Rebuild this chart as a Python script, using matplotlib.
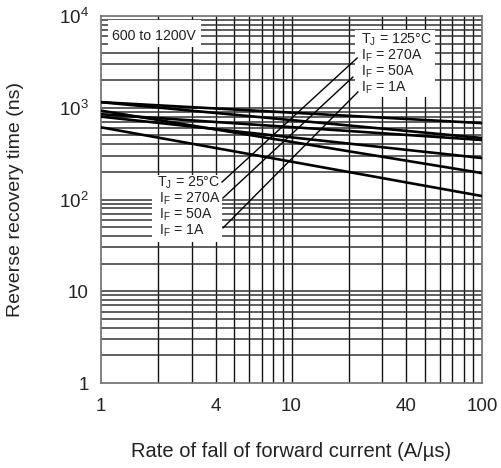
import numpy as np
import matplotlib
matplotlib.use('Agg')
import matplotlib.pyplot as plt
from matplotlib.patches import Rectangle
from matplotlib.ticker import FixedLocator, NullFormatter

plt.rcParams['font.family'] = ['Liberation Sans', 'DejaVu Sans']
plt.rcParams['mathtext.fontset'] = 'custom'
plt.rcParams['mathtext.rm'] = 'Liberation Sans'
plt.rcParams['mathtext.it'] = 'Liberation Sans'

# rate of fall of forward current (A/us) at the two ends of each curve
rate = [1, 100]

# reverse recovery time (ns)
tj125_if270 = [1150, 680]
tj125_if50 = [850, 445]
tj125_if1 = [800, 283]
tj25_if270 = [1150, 468]
tj25_if50 = [930, 194]
tj25_if1 = [612, 109]

x_ticks = [1, 4, 10, 40, 100]
x_ticklabels = ['1', '4', '10', '40', '100']
y_ticks = [1, 10, 100, 1000, 10000]
y_ticklabels = ['1', '10', r'10$^{2}$', r'10$^{3}$', r'10$^{4}$']

# leader lines (data coords): from the 25°C labels up to the 125°C labels
leaders = [
    ([4.32, 22.1], [155, 3480]),
    ([4.37, 21.0], [104, 2160]),
    ([4.37, 22.3], [49, 1485]),
]

fig = plt.figure(figsize=(5.01, 4.68), dpi=100)
ax = fig.add_axes([101 / 501, 85 / 468, 381 / 501, 367 / 468])
ax.set_xscale('log')
ax.set_yscale('log')
ax.set_xlim(1, 100)
ax.set_ylim(1, 10000)

# grid
xminor = [m * d for d in (1, 10) for m in range(2, 10)]
yminor = [m * d for d in (1, 10, 100, 1000) for m in range(2, 10)]
for xv in xminor + [10]:
    ax.axvline(xv, color='#111', lw=1.0, zorder=1)
for yv in yminor + [10, 100, 1000]:
    ax.axhline(yv, color='#333', lw=1.1, zorder=1)

for s in ax.spines.values():
    s.set_color('#777')
    s.set_linewidth(1.3)

# white label boxes
def box(x0, y0, x1, y1):
    fx0, fx1 = (x0 - 101) / 381, (x1 - 101) / 381
    fy0, fy1 = (383 - y1) / 367, (383 - y0) / 367
    ax.add_patch(Rectangle((fx0, fy0), fx1 - fx0, fy1 - fy0, transform=ax.transAxes,
                           facecolor='white', edgecolor='none', zorder=2))

box(108, 20, 201, 47)
box(355, 30, 435, 97)
box(152, 175, 222, 242)

for series in [tj125_if270, tj125_if50, tj125_if1, tj25_if270, tj25_if50, tj25_if1]:
    ax.plot(rate, series, color='black', lw=1.9, zorder=3)

for xs, ys in leaders:
    ax.plot(xs, ys, color='black', lw=1.0, zorder=3)

fs = 10.2
def label(px, py, s):
    ax.text((px - 101) / 381, (383 - py) / 367, s, transform=ax.transAxes,
            fontsize=fs, color='#222', ha='left', va='center', zorder=4)

label(112, 36, '600 to 1200V')
label(361, 40, r'T$_{\mathrm{J}}$ = 125°C')
label(361, 56, r'I$_{\mathrm{F}}$ = 270A')
label(361, 72, r'I$_{\mathrm{F}}$ = 50A')
label(361, 88, r'I$_{\mathrm{F}}$ = 1A')
label(157, 183, r'T$_{\mathrm{J}}$ = 25°C')
label(159, 199, r'I$_{\mathrm{F}}$ = 270A')
label(159, 215, r'I$_{\mathrm{F}}$ = 50A')
label(159, 231, r'I$_{\mathrm{F}}$ = 1A')

ax.xaxis.set_major_locator(FixedLocator(x_ticks))
ax.set_xticklabels(x_ticklabels)
ax.xaxis.set_minor_formatter(NullFormatter())
ax.yaxis.set_major_locator(FixedLocator(y_ticks))
ax.set_yticklabels(y_ticklabels)
ax.yaxis.set_minor_formatter(NullFormatter())
ax.tick_params(which='both', length=0, labelsize=13.5, labelcolor='#222')
ax.tick_params(axis='x', pad=11)
ax.tick_params(axis='y', pad=9)

ax.set_xlabel('Rate of fall of forward current (A/µs)', fontsize=14.5, color='#222')
ax.set_ylabel('Reverse recovery time (ns)', fontsize=14, color='#222')
ax.xaxis.set_label_coords(0.5, (383 - 442) / 367)
ax.yaxis.set_label_coords((24 - 101) / 381, 0.5)

fig.savefig('out.png', dpi=100)
